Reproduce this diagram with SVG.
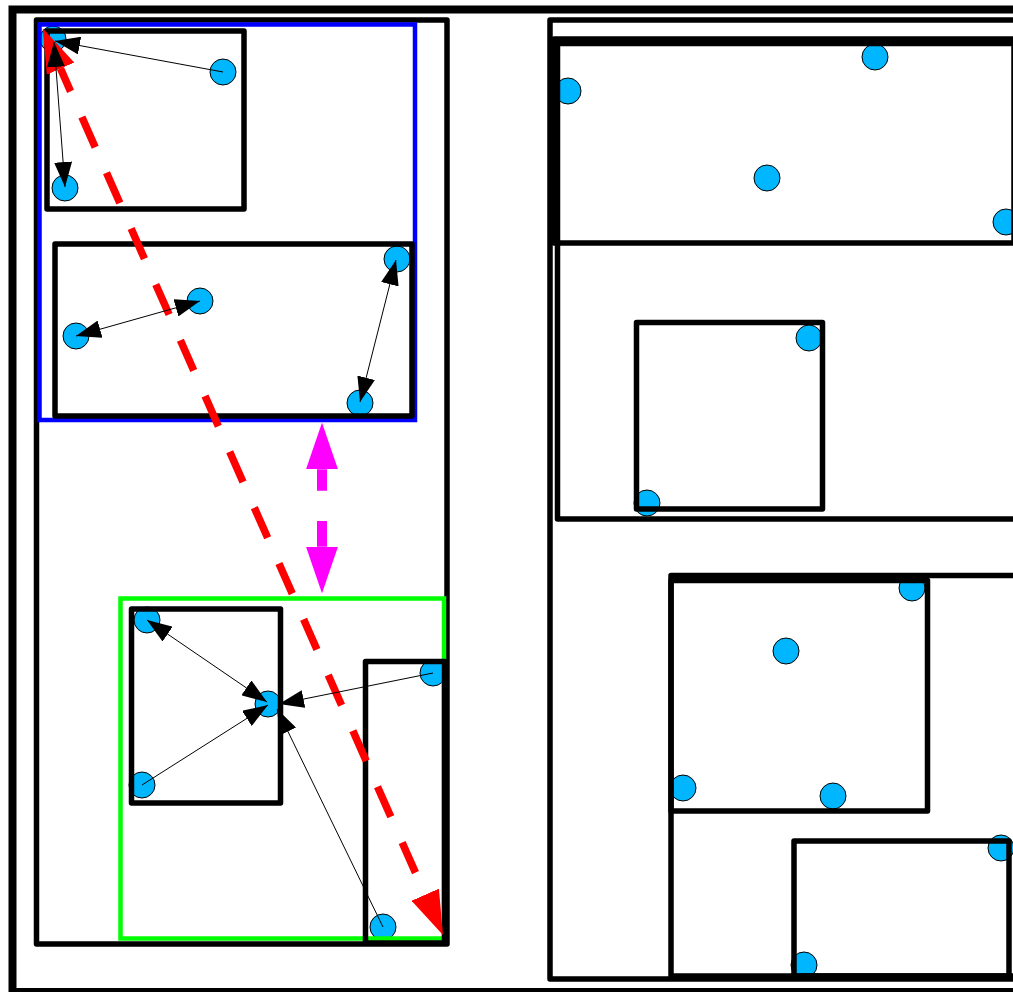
<svg xmlns="http://www.w3.org/2000/svg" width="1013" height="992" viewBox="0 0 1013 992">
<style>
.node{fill:#00b7ff;stroke:#000;stroke-width:1}
.box{fill:none;stroke:#000;stroke-width:5.5;stroke-linejoin:round}
.frame{fill:none;stroke:#000;stroke-width:8}
.blue{fill:none;stroke:#0000ff;stroke-width:4.5}
.green{fill:none;stroke:#00ff00;stroke-width:4.5}
.edge{fill:none;stroke:#000;stroke-width:1}
.red{fill:none;stroke:#ff0000;stroke-width:7.5;stroke-dasharray:33 28;stroke-dashoffset:8.1}
.mag{fill:none;stroke:#ff00ff;stroke-width:10;stroke-dasharray:21.4 30.3 25.7 30.3}
</style>
<defs>
<marker id="ah" viewBox="0 0 25 18" refX="25" refY="9" markerWidth="25" markerHeight="18" markerUnits="userSpaceOnUse" orient="auto-start-reverse"><path d="M0,0 L25,9 L0,18 Z" fill="#000"/></marker>
<marker id="ahRed" viewBox="0 0 44 30" refX="0" refY="15" markerWidth="44" markerHeight="30" markerUnits="userSpaceOnUse" orient="auto-start-reverse"><path d="M0,0 L44,15 L0,30 Z" fill="#ff0000"/></marker>
<marker id="ahMag" viewBox="0 0 46.6 32" refX="0" refY="16" markerWidth="46.6" markerHeight="32" markerUnits="userSpaceOnUse" orient="auto-start-reverse"><path d="M0,0 L46.6,16 L0,32 Z" fill="#ff00ff"/></marker>
</defs>
<rect width="1013" height="992" fill="#fff"/>
<g id="nodes">
<g id="n1"><circle class="node" cx="53" cy="39" r="13"/></g>
<g id="n2"><circle class="node" cx="223" cy="72" r="13"/></g>
<g id="n3"><circle class="node" cx="65" cy="188" r="13"/></g>
<g id="n4"><circle class="node" cx="76" cy="336" r="13"/></g>
<g id="n5"><circle class="node" cx="200" cy="301" r="13"/></g>
<g id="n6"><circle class="node" cx="397" cy="259" r="13"/></g>
<g id="n7"><circle class="node" cx="360" cy="403" r="13"/></g>
<g id="n8"><circle class="node" cx="147" cy="620" r="13"/></g>
<g id="n9"><circle class="node" cx="142" cy="785" r="13"/></g>
<g id="n10"><circle class="node" cx="268" cy="704" r="13"/></g>
<g id="n11"><circle class="node" cx="433" cy="673" r="13"/></g>
<g id="n12"><circle class="node" cx="383" cy="927" r="13"/></g>
<g id="n13"><circle class="node" cx="568" cy="91" r="13"/></g>
<g id="n14"><circle class="node" cx="875" cy="57" r="13"/></g>
<g id="n15"><circle class="node" cx="767" cy="178" r="13"/></g>
<g id="n16"><circle class="node" cx="1006" cy="222" r="13"/></g>
<g id="n17"><circle class="node" cx="809" cy="338" r="13"/></g>
<g id="n18"><circle class="node" cx="647" cy="503" r="13"/></g>
<g id="n19"><circle class="node" cx="912" cy="588" r="13"/></g>
<g id="n20"><circle class="node" cx="786" cy="651" r="13"/></g>
<g id="n21"><circle class="node" cx="683" cy="788" r="13"/></g>
<g id="n22"><circle class="node" cx="833" cy="796" r="13"/></g>
<g id="n23"><circle class="node" cx="1001" cy="848" r="13"/></g>
<g id="n24"><circle class="node" cx="804" cy="965" r="13"/></g>
</g>
<g id="outer"><rect class="frame" x="12.5" y="9.5" width="1020" height="982.5"/></g>
<g id="panelLeft"><rect class="box" x="36.5" y="20" width="410.5" height="924"/></g>
<g id="panelRight"><rect class="box" x="550" y="20" width="500" height="959"/></g>
<g id="groupBlue"><rect class="blue" x="39.5" y="24.5" width="375.5" height="395.5"/></g>
<g id="groupGreen"><rect class="green" x="120.5" y="598.5" width="323.5" height="340"/></g>
<g id="boxTL"><rect class="box" x="47" y="31" width="197" height="178"/></g>
<g id="boxBlue2"><rect class="box" x="55" y="244" width="357" height="172"/></g>
<g id="boxG1"><rect class="box" x="131.5" y="609" width="149" height="194"/></g>
<g id="boxG2"><rect class="box" x="365.5" y="661.5" width="79" height="281.5"/></g>
<g id="boxA"><rect class="box" x="554" y="39" width="460" height="204"/></g>
<g id="boxB"><rect class="box" x="557.5" y="43.5" width="480" height="475.5"/></g>
<g id="boxSq"><rect class="box" x="636.5" y="322.5" width="186" height="186.5"/></g>
<g id="boxC"><rect class="box" x="671" y="575.5" width="400" height="400.5"/></g>
<g id="boxD"><rect class="box" x="671" y="580.5" width="256.5" height="230.5"/></g>
<g id="boxE"><rect class="box" x="794" y="841" width="215" height="135"/></g>
<g id="connectors">
<path class="red" d="M60.5,68.6 L425.2,894.7" marker-start="url(#ahRed)" marker-end="url(#ahRed)"/>
<path class="mag" d="M322,469.3 L322,546.7" marker-start="url(#ahMag)" marker-end="url(#ahMag)"/>
<path class="edge" d="M223,72 L55,41" marker-end="url(#ah)"/>
<path class="edge" d="M54,42 L65,187" marker-start="url(#ah)" marker-end="url(#ah)"/>
<path class="edge" d="M76,336 L200,301" marker-start="url(#ah)" marker-end="url(#ah)"/>
<path class="edge" d="M396,260 L360,402" marker-start="url(#ah)" marker-end="url(#ah)"/>
<path class="edge" d="M147,620 L267,702" marker-start="url(#ah)" marker-end="url(#ah)"/>
<path class="edge" d="M142,785 L268,705" marker-end="url(#ah)"/>
<path class="edge" d="M433,673 L279,704" marker-end="url(#ah)"/>
<path class="edge" d="M383,927 L277,709" marker-end="url(#ah)"/>
</g>
</svg>
